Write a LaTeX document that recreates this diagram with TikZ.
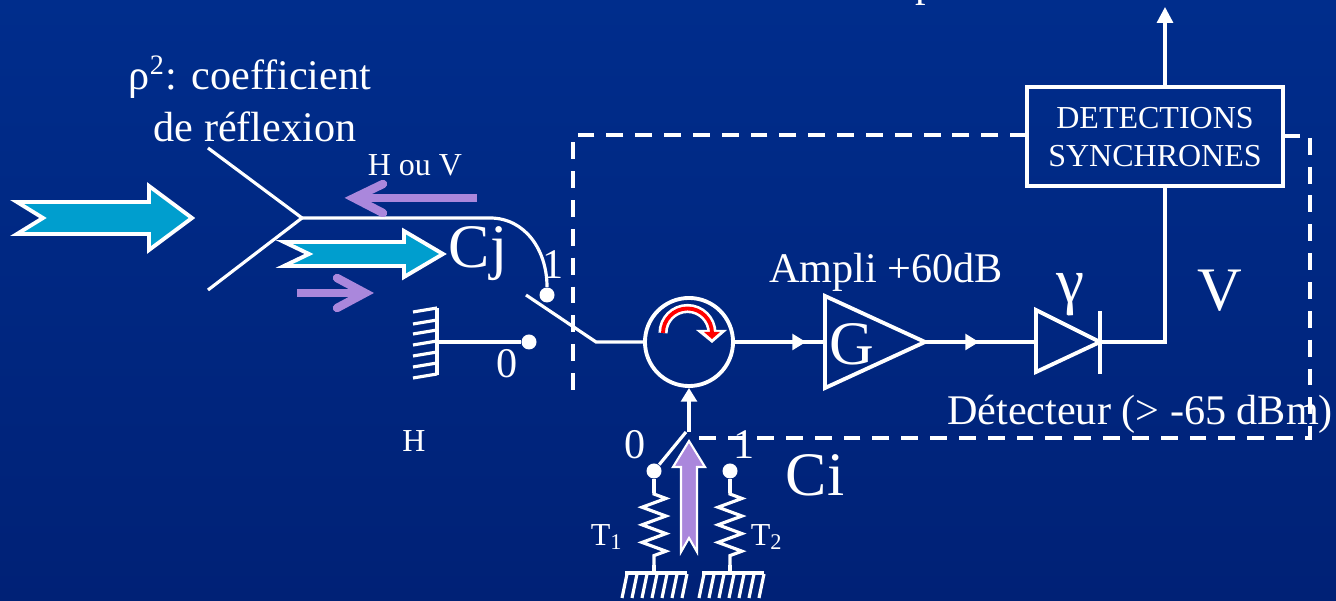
\documentclass[tikz,border=0pt]{standalone}
\usepackage{fontspec}
\setmainfont{Liberation Serif}
\usepackage{tikz}
\usetikzlibrary{arrows.meta,decorations.pathmorphing}
\definecolor{bgtop}{RGB}{0,45,140}
\definecolor{bgbot}{RGB}{0,33,118}
\definecolor{beam}{RGB}{0,158,206}
\definecolor{pol}{RGB}{170,135,220}
\tikzset{
 wire/.style={white,line width=.9pt},
 frame/.style={white,line width=1pt,dash pattern=on 4.8pt off 3.4pt},
 beamarrow/.style={fill=beam,draw=white,line width=1.1pt,line join=miter},
 polarrow/.style={pol,line width=2.4pt,line cap=round},
 dot/.style={circle,fill=white,inner sep=0pt,minimum size=.15cm},
 lbl/.style={white,inner sep=0pt,font=\fontsize{12}{14}\selectfont},
 small/.style={white,inner sep=0pt,font=\fontsize{9.1}{10.8}\selectfont},
 big/.style={white,inner sep=0pt,font=\fontsize{17.6}{20}\selectfont},
 coil/.style={wire,decorate,decoration={zigzag,amplitude=3.4pt,segment length=5pt,pre length=.3pt,post length=.3pt}}
}
\begin{document}
\begin{tikzpicture}[x=.01cm,y=-.01cm,>={Triangle[length=3.9pt,width=4.5pt]}]
 \path[use as bounding box,clip] (0,0) rectangle (1336,601);
 \shade[top color=bgtop,bottom color=bgbot] (0,0) rectangle (1336,601);
 \coordinate (fork) at (302,218);
 \coordinate (forkup) at (208,148);
 \coordinate (forkdown) at (208,290);
 \coordinate (fibre) at (490,218);
 \coordinate (swleft) at (526,295);
 \coordinate (swright) at (596,342);
 \coordinate (mirror) at (437,342);
 \coordinate (ampin) at (825,342);
 \coordinate (ampout) at (925,342);
 \coordinate (mark1) at (806,342);
 \coordinate (mark2) at (979,342);
 \coordinate (diodein) at (1036,342);
 \coordinate (diodeout) at (1100,342);
 \coordinate (bend) at (1165,342);
 \coordinate (outtop) at (1165,7);
 \coordinate (cisw) at (689,432);
 % dashed control line
 \coordinate (fa) at (1027,135);
 \coordinate (fb) at (573,135);
 \coordinate (fc) at (573,392);
 \coordinate (fd) at (1283,136);
 \coordinate (fe) at (1310,136);
 \coordinate (ff) at (1310,438);
 \coordinate (fg) at (690,438);
 \draw[frame] (fa)--(fb)--(fc);
 \draw[frame] (fd)--(fe)--(ff)--(fg);
 % nodes
 \node[draw=white,line width=1.1pt,minimum width=2.56cm,minimum height=.99cm,inner sep=0pt] (detect) at (1155,136.5) {};
 \node[circle,draw=white,line width=1.1pt,minimum size=.88cm,inner sep=0pt] (circ) at (689,342) {};
 \node[dot] (dotone) at (547,295) {};
 \node[dot] (dotzero) at (529,342) {};
 \node[dot] (dotta) at (654,471) {};
 \node[dot] (dottb) at (730,471) {};
 % input and fibre
 \draw[wire] (forkup)--(fork)--(forkdown);
 \draw[wire] (fork)--(fibre) .. controls (525,218) and (547,250) .. (dotone);
 \draw[beamarrow] (17,202)--(43,218)--(17,234)--(149,234)--(149,250)--(192,218)--(149,186)--(149,202)--cycle;
 \draw[beamarrow] (284,242)--(309,254)--(284,266)--(404,266)--(404,277)--(443,254)--(404,231)--(404,242)--cycle;
 \draw[polarrow,line cap=butt] (477,198)--(356,198);
 \draw[polarrow,line join=miter] (383,184)--(354,198)--(383,213);
 \draw[polarrow,line cap=butt] (297,293)--(362,293);
 \draw[polarrow,line join=miter] (337,278)--(365,293)--(337,308);
 % mirror and switch
 \draw[wire] (437,308)--(437,375);
 \foreach \y in {308,320,330,341,352,363,374}
  \draw[wire] (437,\y)--(413,\y+4);
 \draw[wire] (mirror)--(dotzero);
 \draw[wire] (swleft)--(swright)--(circ);
 % circulator
 \draw[white,line width=2.6pt] (663,333) arc[start angle=180,end angle=360,radius=24.5];
 \fill[white] (696,330)--(727,330)--(712,343)--cycle;
 \draw[red,line width=1.1pt] (663,333) arc[start angle=180,end angle=360,radius=24.5];
 \fill[red] (704,332)--(720,332)--(712,339)--cycle;
 % amplifier and diode
 \draw[wire] (circ)--(ampin);
 \draw[wire,->] (circ)--(mark1);
 \draw[white,line width=1.1pt] (825,296)--(925,342)--(825,388)--cycle;
 \draw[wire] (ampout)--(diodein);
 \draw[wire,->] (ampout)--(mark2);
 \draw[white,line width=1.1pt] (1036,310)--(1100,342)--(1036,372)--cycle;
 \draw[white,line width=1.1pt] (1100,311)--(1100,374);
 \draw[wire] (diodeout)--(bend)--(detect.south -| bend);
 \draw[wire,-{Triangle[length=4.5pt,width=4.5pt]}] (detect.north -| outtop)--(outtop);
 % temperature switch
 \draw[wire,->] (cisw)--(circ.south);
 \draw[wire] (686,432)--(dotta);
 \draw[wire] (dotta)--(654,493);
 \draw[wire] (dottb)--(730,493);
 \draw[coil] (654,493)--(654,565);
 \draw[coil] (730,493)--(730,565);
 \draw[wire] (654,565)--(654,573);
 \draw[wire] (730,565)--(730,573);
 \foreach \xa in {625,702}{
  \draw[wire] (\xa,573)--(\xa+62,573);
  \foreach \i in {0,...,6}
   \draw[wire] (\xa+\i*10+2,574)--(\xa+\i*10-3,598);
 }
 \draw[fill=pol,draw=white,line width=.6pt] (689,441)--(705,467)--(697,467)--(697,552)--(689,538)--(681,552)--(681,467)--(673,467)--cycle;
 % labels
 \node[lbl,anchor=base] (topcut) at (926,-3) {p};
 \node[lbl,anchor=base] (rho) at (250,90) {ρ\textsuperscript{2}: coefficient};
 \node[lbl] (refl) at (255,127) {de réflexion};
 \node[small] (hv) at (415,165) {H ou V};
 \node[big] (cj) at (478,254) {Cj};
 \node[lbl] (cjone) at (553,265) {1};
 \node[lbl] (cjzero) at (507,364) {0};
 \node[small] (hlbl) at (414,441) {H};
 \node[lbl] (ampli) at (886,272) {Ampli +60dB};
 \node[big] (glbl) at (852,344) {G};
 \node[lbl,font=\fontsize{18}{20}\selectfont] (gam) at (1070,295) {γ};
 \node[big] (vlbl) at (1220,291) {V};
 \node[lbl] (detlbl) at (1140,414) {Détecteur (> -65 dBm)};
 \node[small,align=center] (detlbl2) at (1155,137) {DETECTIONS\hspace{4.3pt}\\SYNCHRONES};
 \node[lbl] (cizero) at (635,445) {0};
 \node[lbl] (cione) at (744,445) {1};
 \node[big] (cilbl) at (815,475) {Ci};
 \node[small] (tone) at (607,537) {T\textsubscript{1}};
 \node[small] (ttwo) at (767,537) {T\textsubscript{2}};
\end{tikzpicture}
\end{document}
